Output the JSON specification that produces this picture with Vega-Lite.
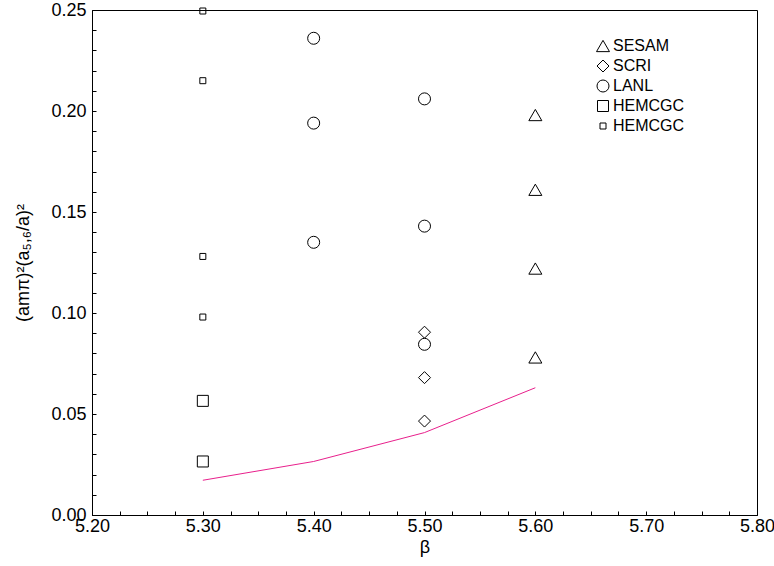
{
  "$schema": "https://vega.github.io/schema/vega-lite/v6.json",
  "width": 665,
  "height": 505,
  "autosize": {"type": "none"},
  "padding": {"left": 92, "top": 10, "right": 17, "bottom": 51},
  "config": {
    "view": {"stroke": "#000", "strokeWidth": 1},
    "font": "Liberation Sans",
    "axis": {
      "grid": false,
      "domainColor": "#000",
      "tickColor": "#000",
      "labelColor": "#000",
      "titleColor": "#000",
      "titleFontWeight": "normal",
      "labelOverlap": false,
      "labelBound": false,
      "labelFlush": false
    }
  },
  "encoding": {
    "x": {
      "field": "beta",
      "type": "quantitative",
      "scale": {"domain": [5.2, 5.8], "nice": false, "zero": false},
      "axis": {
        "title": "β",
        "values": [5.2, 5.225, 5.25, 5.275, 5.3, 5.325, 5.35, 5.375, 5.4, 5.425, 5.45, 5.475, 5.5, 5.525, 5.55, 5.575, 5.6, 5.625, 5.65, 5.675, 5.7, 5.725, 5.75, 5.775, 5.8],
        "format": ".2f",
        "labelExpr": "abs(datum.value*10 - round(datum.value*10)) < 0.001 ? datum.label : ''",
        "tickSize": -4,
        "labelFont": "Liberation Sans",
        "titleFont": "Liberation Sans",
        "labelFontSize": 18,
        "titleFontSize": 18,
        "labelPadding": 6,
        "titlePadding": 3
      }
    },
    "y": {
      "field": "y",
      "type": "quantitative",
      "scale": {"domain": [0, 0.25], "nice": false},
      "axis": {
        "title": "(amπ)²(a₅,₆/a)²",
        "values": [0, 0.01, 0.02, 0.03, 0.04, 0.05, 0.06, 0.07, 0.08, 0.09, 0.1, 0.11, 0.12, 0.13, 0.14, 0.15, 0.16, 0.17, 0.18, 0.19, 0.2, 0.21, 0.22, 0.23, 0.24, 0.25],
        "format": ".2f",
        "labelExpr": "abs(datum.value*20 - round(datum.value*20)) < 0.001 ? datum.label : ''",
        "tickSize": -4,
        "labelFont": "Liberation Sans",
        "titleFont": "Liberation Sans",
        "labelFontSize": 18,
        "titleFontSize": 18,
        "labelPadding": 10,
        "titlePadding": 18
      }
    }
  },
  "layer": [
    {
      "data": {
        "values": [
          {"beta": 5.6, "y": 0.198, "series": "SESAM"},
          {"beta": 5.6, "y": 0.161, "series": "SESAM"},
          {"beta": 5.6, "y": 0.122, "series": "SESAM"},
          {"beta": 5.6, "y": 0.078, "series": "SESAM"},
          {"beta": 5.5, "y": 0.0905, "series": "SCRI"},
          {"beta": 5.5, "y": 0.068, "series": "SCRI"},
          {"beta": 5.5, "y": 0.0465, "series": "SCRI"},
          {"beta": 5.4, "y": 0.236, "series": "LANL"},
          {"beta": 5.4, "y": 0.194, "series": "LANL"},
          {"beta": 5.4, "y": 0.135, "series": "LANL"},
          {"beta": 5.5, "y": 0.206, "series": "LANL"},
          {"beta": 5.5, "y": 0.143, "series": "LANL"},
          {"beta": 5.5, "y": 0.0845, "series": "LANL"},
          {"beta": 5.3, "y": 0.0565, "series": "HEMCGC"},
          {"beta": 5.3, "y": 0.0265, "series": "HEMCGC"},
          {"beta": 5.3, "y": 0.2495, "series": "HEMCGC2"},
          {"beta": 5.3, "y": 0.215, "series": "HEMCGC2"},
          {"beta": 5.3, "y": 0.128, "series": "HEMCGC2"},
          {"beta": 5.3, "y": 0.098, "series": "HEMCGC2"}
        ]
      },
      "mark": {"type": "point", "filled": false, "color": "#000", "strokeWidth": 1, "opacity": 1},
      "encoding": {
        "shape": {
          "field": "series",
          "type": "nominal",
          "scale": {"domain": ["SESAM", "SCRI", "LANL", "HEMCGC", "HEMCGC2"], "range": ["triangle-up", "diamond", "circle", "square", "square"]},
          "legend": {
            "title": null,
            "orient": "none",
            "legendX": 503,
            "legendY": 28,
            "labelExpr": "datum.label == 'HEMCGC2' ? 'HEMCGC' : datum.label",
            "labelFont": "Liberation Sans",
            "labelFontSize": 16,
            "labelColor": "#000",
            "symbolStrokeColor": "#000",
            "symbolFillColor": "transparent",
            "symbolStrokeWidth": 1,
            "rowPadding": 4,
            "labelOffset": 2
          }
        },
        "size": {
          "field": "series",
          "type": "nominal",
          "scale": {"type": "ordinal", "domain": ["SESAM", "SCRI", "LANL", "HEMCGC", "HEMCGC2"], "range": [169, 144, 144, 121, 36]},
          "legend": {
            "title": null,
            "orient": "none",
            "legendX": 503,
            "legendY": 28,
            "labelExpr": "datum.label == 'HEMCGC2' ? 'HEMCGC' : datum.label",
            "labelFont": "Liberation Sans",
            "labelFontSize": 16,
            "labelColor": "#000",
            "symbolStrokeColor": "#000",
            "symbolFillColor": "transparent",
            "symbolStrokeWidth": 1,
            "rowPadding": 4,
            "labelOffset": 2
          }
        }
      }
    },
    {
      "data": {
        "values": [
          {"beta": 5.3, "y": 0.0172},
          {"beta": 5.4, "y": 0.0265},
          {"beta": 5.5, "y": 0.0408},
          {"beta": 5.6, "y": 0.063}
        ]
      },
      "mark": {"type": "line", "color": "#e8208c", "strokeWidth": 1}
    }
  ]
}
